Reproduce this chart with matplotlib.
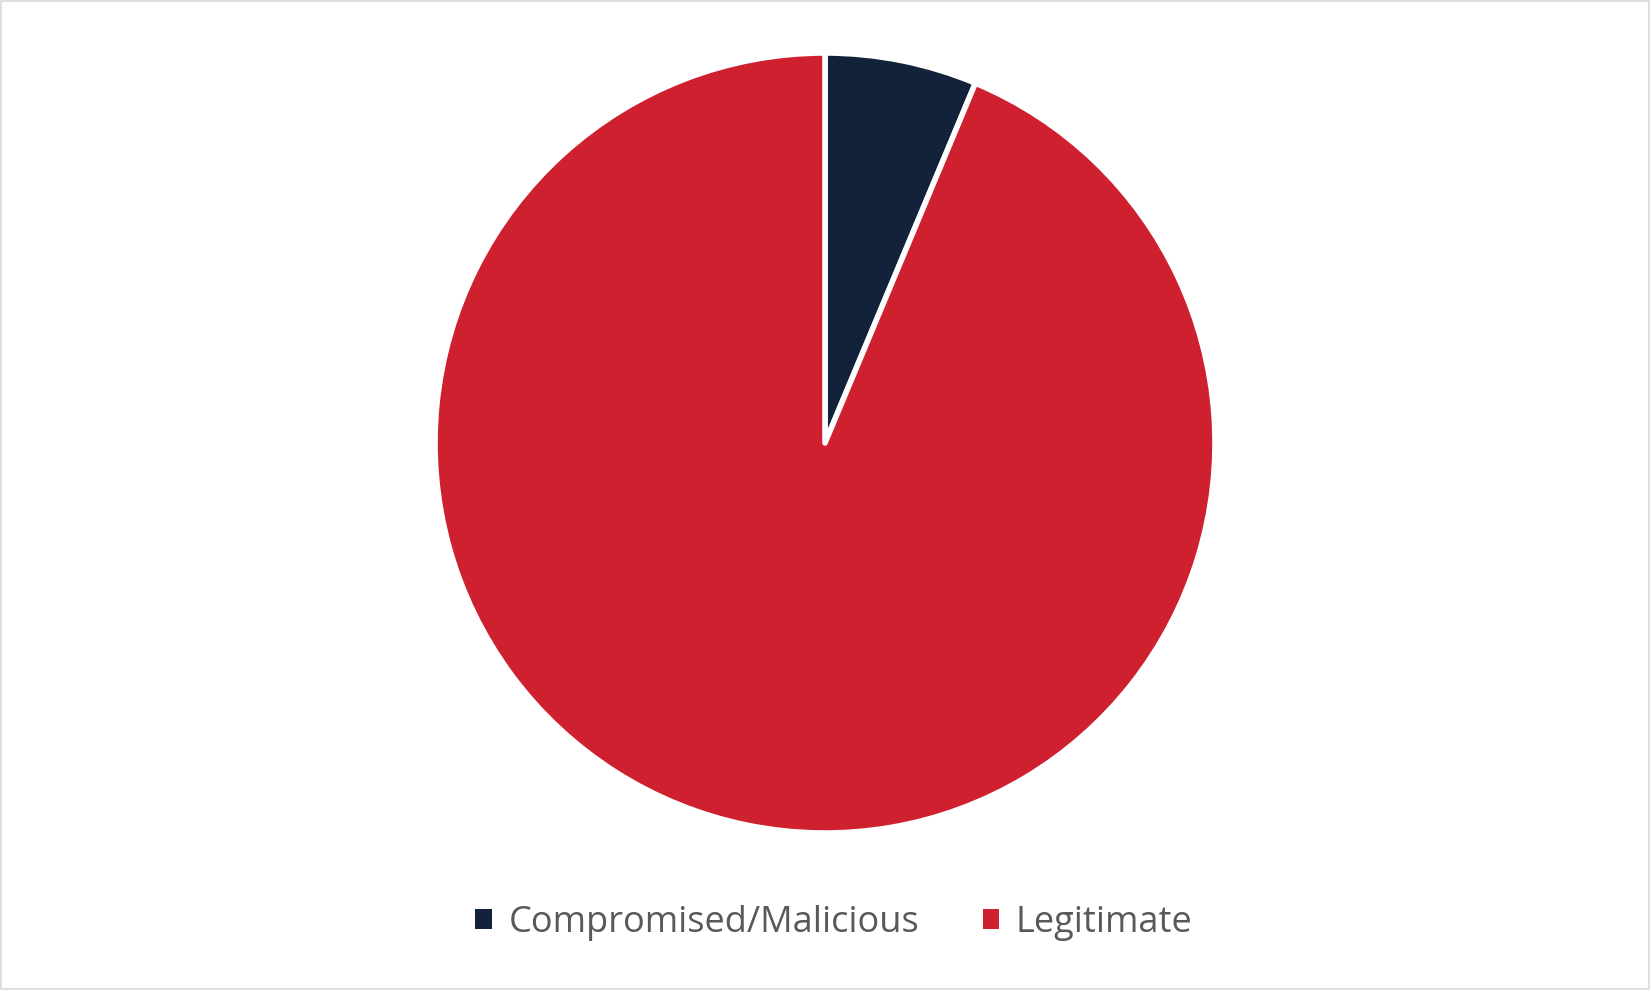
import matplotlib
matplotlib.use("Agg")
import matplotlib.pyplot as plt
from matplotlib.patches import Patch, Rectangle

# data
labels = ["Compromised/Malicious", "Legitimate"]
shares = [6.3, 93.7]
colors = ["#12223A", "#CE202F"]

W, H = 1650, 990
fig = plt.figure(figsize=(W / 100, H / 100), dpi=100)

# pie centre ~ (825, 443) px, radius ~ 390 px
cx, cy, r = 825, 443, 390
ax = fig.add_axes([(cx - r) / W, (H - cy - r) / H, 2 * r / W, 2 * r / H])
ax.pie(shares, colors=colors, startangle=90, counterclock=False, radius=1.0,
       wedgeprops=dict(edgecolor="white", linewidth=4, joinstyle="round"))
ax.set_xlim(-1.0, 1.0)
ax.set_ylim(-1.0, 1.0)
ax.set_aspect("equal")
ax.axis("off")

handles = [Patch(facecolor=c, edgecolor="none") for c in colors]
leg = fig.legend(handles, labels, loc="center", bbox_to_anchor=(834 / W, (H - 923) / H),
                 ncol=2, frameon=False, prop=dict(family="Open Sans", size=26),
                 labelcolor="#595959", handlelength=0.45, handleheight=0.45,
                 handletextpad=0.47, columnspacing=1.75)

# thin grey frame around the whole chart
fig.patches.append(Rectangle((0.0005, 0.001), 0.999, 0.998, transform=fig.transFigure,
                             fill=False, edgecolor="#D9D9D9", linewidth=1.2))

fig.savefig("out.png", dpi=100, facecolor="white")
